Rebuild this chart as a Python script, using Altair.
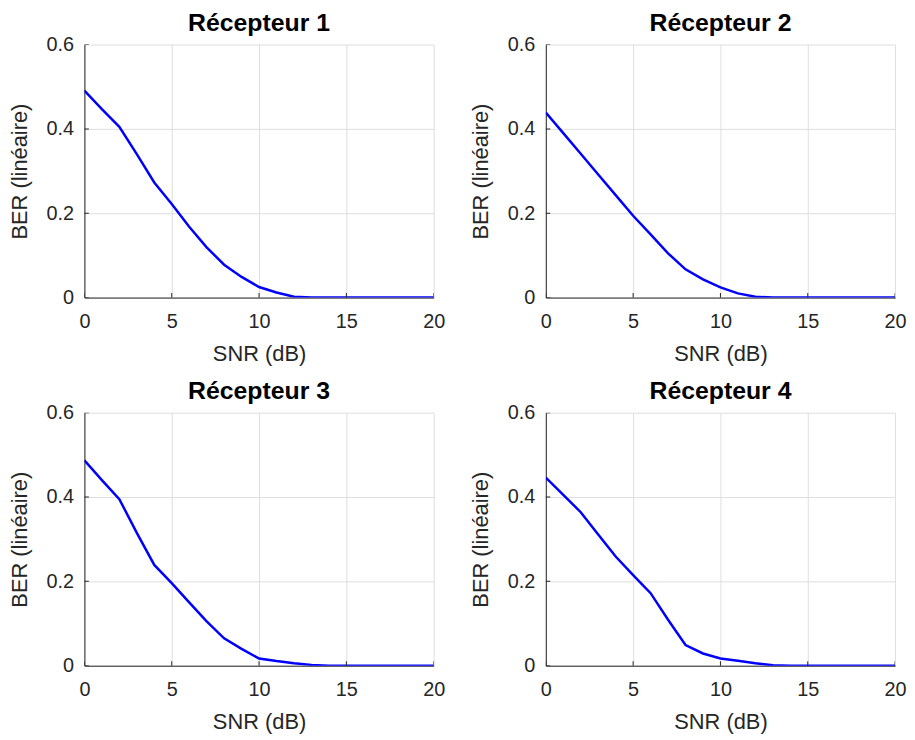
import altair as alt
import pandas as pd

snr = list(range(21))
ber_r1 = [0.491, 0.447, 0.405, 0.340, 0.273, 0.222, 0.168, 0.119, 0.078, 0.049, 0.025,
          0.012, 0.002, 0, 0, 0, 0, 0, 0, 0, 0]
ber_r2 = [0.439, 0.390, 0.341, 0.292, 0.243, 0.194, 0.150, 0.105, 0.067, 0.043, 0.024,
          0.010, 0.002, 0, 0, 0, 0, 0, 0, 0, 0]
ber_r3 = [0.487, 0.440, 0.395, 0.315, 0.239, 0.196, 0.150, 0.105, 0.065, 0.040, 0.017,
          0.011, 0.006, 0.002, 0, 0, 0, 0, 0, 0, 0]
ber_r4 = [0.446, 0.405, 0.364, 0.311, 0.259, 0.215, 0.172, 0.109, 0.049, 0.029, 0.017,
          0.012, 0.006, 0.001, 0, 0, 0, 0, 0, 0, 0]
titles = ["Récepteur 1", "Récepteur 2", "Récepteur 3", "Récepteur 4"]
x_ticks = [0, 5, 10, 15, 20]
y_ticks = [0, 0.2, 0.4, 0.6]

FONT = "Liberation Sans"
W, H = 352, 255
X_TITLE = "SNR (dB)"
Y_TITLE = "BER (linéaire)"


def panel(vals, title):
    df = pd.DataFrame({"SNR": snr, "BER": vals})
    xs = alt.Scale(domain=[0, 20], nice=False, zero=False)
    ys = alt.Scale(domain=[0, 0.6], nice=False)
    line = alt.Chart(df).mark_line(color="#0000ff", strokeWidth=2.5, clip=True).encode(
        x=alt.X("SNR:Q", title=X_TITLE, scale=xs,
                axis=alt.Axis(values=x_ticks, format="d", labelFlush=False,
                              labelPadding=14, titlePadding=12)),
        y=alt.Y("BER:Q", title=Y_TITLE, scale=ys,
                axis=alt.Axis(values=y_ticks, format=".1~f", labelFlush=False,
                              labelPadding=11, titlePadding=15)),
    )
    xt = alt.Chart(pd.DataFrame({"SNR": x_ticks, "BER": [0] * len(x_ticks)})).mark_tick(
        orient="vertical", size=9, thickness=1, color="#262626", opacity=1, clip=True
    ).encode(x=alt.X("SNR:Q", title=X_TITLE), y=alt.Y("BER:Q", title=Y_TITLE))
    yt = alt.Chart(pd.DataFrame({"SNR": [0] * len(y_ticks), "BER": y_ticks})).mark_tick(
        orient="horizontal", size=9, thickness=1, color="#262626", opacity=1, clip=True
    ).encode(x=alt.X("SNR:Q", title=X_TITLE), y=alt.Y("BER:Q", title=Y_TITLE))
    return alt.layer(line, xt, yt).properties(
        width=W, height=H,
        title=alt.Title(title, fontSize=25, fontWeight="bold", font=FONT,
                        color="#000000", offset=-1),
    )


charts = [panel(v, t) for v, t in zip([ber_r1, ber_r2, ber_r3, ber_r4], titles)]

chart = alt.concat(
    *charts, columns=2, spacing={"row": 116, "column": 113}, bounds="flush"
).properties(
    padding=0, background="white"
).configure_view(
    strokeWidth=0
).configure_axis(
    labelFont=FONT, titleFont=FONT, labelFontSize=20, titleFontSize=22,
    labelColor="#262626", titleColor="#262626", titleFontWeight="normal",
    domainColor="#262626", domainWidth=1, ticks=False,
    grid=True, gridColor="#dedede", gridWidth=1,
)

chart.save("out.html", embed_options={"renderer": "svg", "actions": False})
